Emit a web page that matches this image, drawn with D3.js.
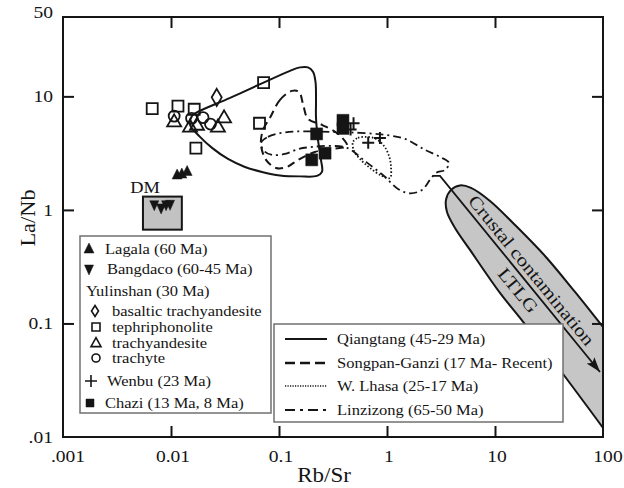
<!DOCTYPE html>
<html><head><meta charset="utf-8">
<script src="https://cdn.jsdelivr.net/npm/d3@7"></script>
<style>body{margin:0;background:#fff}svg{display:block}
text{font-family:"Liberation Serif","Times New Roman","DejaVu Serif",serif}</style>
</head><body>
<svg id="c" width="624" height="488"></svg>
<script>
// ---------------- DATA ----------------
const xTicks = [0.001, 0.01, 0.1, 1, 10, 100];
const xTickLabels = [".001", "0.01", "0.1", "1", "10", "100"];
const yTicks = [0.01, 0.1, 1, 10, 50];
const yTickLabels = [".01", "0.1", "1", "10", "50"];

// points [Rb/Sr, La/Nb]
const lagala = [[0.0114, 2.03], [0.0126, 2.07], [0.0141, 2.18]];
const bangdaco = [[0.0070, 1.11], [0.0081, 1.04], [0.0090, 1.11], [0.0098, 1.12]];
const basalticTrachyandesite = [[0.0265, 9.8]];
const tephriphonolite = [[0.0067, 7.8], [0.0116, 8.2], [0.0164, 7.7], [0.072, 13.2], [0.066, 5.8], [0.017, 3.5]];
const trachyandesite = [[0.0107, 6.0], [0.015, 5.4], [0.0174, 5.6], [0.0272, 5.4], [0.031, 6.5]];
const trachyte = [[0.0107, 6.7], [0.0155, 6.4], [0.0198, 6.5], [0.0232, 5.7]];
const wenbu = [[0.49, 5.8], [0.46, 5.1], [0.67, 3.9], [0.86, 4.3]];
const chazi = [[0.223, 4.67], [0.391, 6.15], [0.391, 5.22], [0.267, 3.16], [0.201, 2.76]];

// DM field
const dmBoxX = [0.0055, 0.0126];
const dmBoxY = [0.67, 1.31];

// fields (closed contours)
const qiangtang = [[0.01704, 7.16], [0.0352, 9.70], [0.0711, 13.15], [0.1264, 16.78], [0.1565, 18.0], [0.1856, 18.0],
  [0.2064, 16.44], [0.2178, 13.42], [0.2201, 9.32], [0.2201, 6.47], [0.2297, 4.14], [0.2448, 2.76], [0.2501, 2.16],
  [0.2248, 1.994], [0.1565, 1.974], [0.1022, 2.014], [0.0696, 2.16], [0.0484, 2.39], [0.0337, 2.81], [0.0240, 3.52],
  [0.01856, 4.40], [0.0150, 5.61], [0.01565, 6.73]];
const songpanGanzi = [[0.0825, 6.47], [0.1022, 9.32], [0.1319, 11.18], [0.1532, 10.95], [0.1668, 8.59], [0.1856, 6.34],
  [0.2501, 5.61], [0.3518, 4.67], [0.4263, 3.66], [0.3095, 3.45], [0.2154, 3.24], [0.1500, 2.76], [0.1186, 2.39],
  [0.0938, 2.34], [0.0758, 2.76], [0.0681, 3.74], [0.0711, 5.07]];
const wLhasa = [[0.4842, 3.97], [0.5388, 4.31], [0.6528, 4.40], [0.791, 4.22], [0.938, 3.66], [1.044, 2.99],
  [1.089, 2.39], [1.066, 1.91], [0.899, 1.99], [0.696, 2.34], [0.5623, 2.81], [0.4946, 3.31]];
const linzizong = [[0.0681, 3.89], [0.0791, 4.40], [0.1136, 4.82], [0.1740, 4.92], [0.2966, 4.87], [0.5623, 4.77],
  [0.958, 4.58], [1.468, 4.22], [2.248, 3.38], [3.095, 2.93], [3.751, 2.59], [3.443, 2.25], [2.842, 2.12],
  [2.501, 1.84], [2.109, 1.50], [1.633, 1.40], [1.264, 1.53], [0.938, 1.99], [0.639, 2.65], [0.4263, 3.52],
  [0.2966, 3.66], [0.2064, 3.59], [0.1532, 3.45], [0.1136, 3.11], [0.0861, 3.05], [0.0727, 3.31]];

// crustal contamination band (outline) and trend arrow
const crustalBand = [[121.1, 0.00941], [39.99, 0.0389], [17.04, 0.1118], [11.12, 0.1857], [5.87, 0.4442],
  [4.263, 0.694], [3.594, 0.960], [3.518, 1.225], [3.914, 1.50], [4.742, 1.644], [5.995, 1.563], [8.99, 1.200],
  [15.32, 0.737], [29.04, 0.393], [55.06, 0.1895], [100, 0.0931], [129.2, 0.0687]];
const crustalArrow = [[2.67, 1.994], [3.095, 1.994], [93.8, 0.0374]];

const legend1Labels = ["Lagala (60 Ma)", "Bangdaco (60-45 Ma)", "Yulinshan (30 Ma)", "basaltic trachyandesite",
  "tephriphonolite", "trachyandesite", "trachyte", "Wenbu (23 Ma)", "Chazi (13 Ma, 8 Ma)"];
const legend2Labels = ["Qiangtang (45-29 Ma)", "Songpan-Ganzi (17 Ma- Recent)", "W. Lhasa (25-17 Ma)", "Linzizong (65-50 Ma)"];
const xTitle = "Rb/Sr", yTitle = "La/Nb";

// ---------------- DRAW ----------------
const INK = "#151515";
const svg = d3.select("#c");
const X = d3.scaleLog().domain([0.001, 100]).range([63, 603]);
const Y = d3.scaleLog().domain([0.01, 50]).range([437, 17]);

function stext(g, x, y, str, size, sx, anchor, rot) {
  return g.append("text")
    .attr("transform", `translate(${x},${y}) rotate(${rot || 0}) scale(${sx},1)`)
    .attr("text-anchor", anchor || "start")
    .attr("font-size", size).attr("fill", INK)
    .text(str);
}
const shapes = {
  square: s => `M${-s/2},${-s/2}h${s}v${s}h${-s}Z`,
  triUp: (w, h) => `M0,${-h*0.6}L${w/2},${h*0.4}L${-w/2},${h*0.4}Z`,
  triDown: (w, h) => `M0,${h*0.6}L${w/2},${-h*0.4}L${-w/2},${-h*0.4}Z`,
  diamond: (w, h) => `M0,${-h/2}L${w/2},0L0,${h/2}L${-w/2},0Z`,
  plus: a => `M${-a},0H${a}M0,${-a}V${a}`
};

const defs = svg.append("defs");
defs.append("clipPath").attr("id", "plotclip").append("rect")
  .attr("x", X(0.001)).attr("y", Y(50)).attr("width", X(100) - X(0.001)).attr("height", Y(0.01) - Y(50));
defs.append("marker").attr("id", "ah").attr("markerUnits", "userSpaceOnUse")
  .attr("markerWidth", 16).attr("markerHeight", 12).attr("refX", 15).attr("refY", 5)
  .attr("orient", "auto")
  .append("path").attr("d", "M0,0L15,5L0,10L3,5Z").attr("fill", INK);

const plot = svg.append("g").attr("clip-path", "url(#plotclip)");
const line = d3.line().x(d => X(d[0])).y(d => Y(d[1]));
const closed = d3.line().x(d => X(d[0])).y(d => Y(d[1])).curve(d3.curveCatmullRomClosed.alpha(0.5));

// band
plot.append("path").attr("d", d3.line().x(d => X(d[0])).y(d => Y(d[1])).curve(d3.curveCatmullRom.alpha(0.5))(crustalBand))
  .attr("fill", "#c6c6c6").attr("stroke", INK).attr("stroke-width", 2);
plot.append("path").attr("d", line(crustalArrow)).attr("fill", "none").attr("stroke", INK)
  .attr("stroke-width", 1.8).attr("marker-end", "url(#ah)");

// band texts placed along the arrow
{
  const p0 = [X(crustalArrow[1][0]), Y(crustalArrow[1][1])], p1 = [X(crustalArrow[2][0]), Y(crustalArrow[2][1])];
  const dx = p1[0] - p0[0], dy = p1[1] - p0[1], len = Math.hypot(dx, dy);
  const ux = dx / len, uy = dy / len, nx = uy, ny = -ux;
  const ang = Math.atan2(dy, dx) * 180 / Math.PI;
  const at = (s, o) => [p0[0] + ux * s + nx * o, p0[1] + uy * s + ny * o];
  const a = at(131, 5);
  stext(plot, a[0], a[1], "Crustal contamination", 18, 1.18, "middle", ang);
  const b = at(138, -18);
  stext(plot, b[0], b[1], "LTLG", 18, 1.18, "middle", ang);
}

// fields
plot.append("path").attr("d", closed(qiangtang)).attr("fill", "none").attr("stroke", INK).attr("stroke-width", 2);
plot.append("path").attr("d", closed(songpanGanzi)).attr("fill", "none").attr("stroke", INK).attr("stroke-width", 2)
  .attr("stroke-dasharray", "8,5");
plot.append("path").attr("d", closed(linzizong)).attr("fill", "none").attr("stroke", INK).attr("stroke-width", 1.8)
  .attr("stroke-dasharray", "8,4,2,4");
plot.append("path").attr("d", closed(wLhasa)).attr("fill", "none").attr("stroke", INK).attr("stroke-width", 1.8)
  .attr("stroke-dasharray", "1.5,2");

// DM box
plot.append("rect").attr("x", X(dmBoxX[0])).attr("y", Y(dmBoxY[1]))
  .attr("width", X(dmBoxX[1]) - X(dmBoxX[0])).attr("height", Y(dmBoxY[0]) - Y(dmBoxY[1]))
  .attr("fill", "#c2c2c2").attr("stroke", INK).attr("stroke-width", 2);
stext(svg, X(dmBoxX[0]) + 2, Y(dmBoxY[1]) - 4, "DM", 16, 1.15, "middle");

// symbols
function pts(data, d, fill, sw) {
  plot.append("g").selectAll("path").data(data).join("path")
    .attr("transform", p => `translate(${X(p[0])},${Y(p[1])})`)
    .attr("d", d).attr("fill", fill ? INK : "none").attr("stroke", INK).attr("stroke-width", sw);
}
pts(tephriphonolite, shapes.square(11), false, 1.8);
pts(trachyandesite, shapes.triUp(14, 12), false, 1.8);
plot.append("g").selectAll("circle").data(trachyte).join("circle")
  .attr("cx", p => X(p[0])).attr("cy", p => Y(p[1])).attr("r", 5.5)
  .attr("fill", "none").attr("stroke", INK).attr("stroke-width", 1.8);
pts(basalticTrachyandesite, shapes.diamond(10, 17), false, 1.8);
pts(lagala, shapes.triUp(10, 10), true, 0.5);
pts(bangdaco, shapes.triDown(9, 10), true, 0.5);
pts(chazi, shapes.square(12), true, 0.5);
pts(wenbu, shapes.plus(6), false, 2);

// frame & ticks
svg.append("rect").attr("x", X(0.001)).attr("y", Y(50)).attr("width", X(100) - X(0.001))
  .attr("height", Y(0.01) - Y(50)).attr("fill", "none").attr("stroke", INK).attr("stroke-width", 2);
function styleAxis(g) { g.select(".domain").remove(); g.selectAll("line").attr("stroke", INK).attr("stroke-width", 2); }
const inner = xTicks.slice(1, -1);
svg.append("g").attr("transform", `translate(0,${Y(0.01)})`)
  .call(d3.axisBottom(X).tickValues(inner).tickSize(-11).tickFormat("")).call(styleAxis);
svg.append("g").attr("transform", `translate(0,${Y(50)})`)
  .call(d3.axisTop(X).tickValues(inner).tickSize(-11).tickFormat("")).call(styleAxis);
const yInner = yTicks.slice(1, -1);
svg.append("g").attr("transform", `translate(${X(0.001)},0)`)
  .call(d3.axisLeft(Y).tickValues(yInner).tickSize(-11).tickFormat("")).call(styleAxis);
svg.append("g").attr("transform", `translate(${X(100)},0)`)
  .call(d3.axisRight(Y).tickValues(yInner).tickSize(-11).tickFormat("")).call(styleAxis);

// tick labels
xTicks.forEach((v, i) => {
  const off = (i === 0 || i === xTicks.length - 1) ? 5 : 2;
  stext(svg, X(v) + off, 462, xTickLabels[i], 17, 1.15, "middle");
});
yTicks.forEach((v, i) => {
  let by = Y(v) + 6;
  if (v === 50) by = Y(v) + 1;
  stext(svg, 53, by, yTickLabels[i], 17, 1.15, "end");
});
stext(svg, 324, 482, xTitle, 20, 1.15, "middle");
stext(svg, 35, 218, yTitle, 20, 1.12, "middle", -90);

// legend 1
const L1 = svg.append("g");
L1.append("rect").attr("x", 80).attr("y", 236).attr("width", 191).attr("height", 177)
  .attr("fill", "#fff").attr("stroke", "#707070").attr("stroke-width", 1.5);
const L1rows = [
  { sym: shapes.triUp(10, 10), fill: true, sx: 89, tx: 105, y: 249 },
  { sym: shapes.triDown(9, 10), fill: true, sx: 89, tx: 107, y: 269 },
  { sym: null, tx: 86, y: 291 },
  { sym: shapes.diamond(7, 11), fill: false, sx: 95, tx: 112, y: 311 },
  { sym: shapes.square(8), fill: false, sx: 96, tx: 112, y: 327 },
  { sym: shapes.triUp(10, 9), fill: false, sx: 96, tx: 112, y: 343 },
  { sym: "circle", sx: 96, tx: 112, y: 358 },
  { sym: shapes.plus(6), fill: false, sx: 91, tx: 107, y: 381 },
  { sym: shapes.square(8), fill: true, sx: 90, tx: 105, y: 403 }
];
L1rows.forEach((r, i) => {
  if (r.sym === "circle") {
    L1.append("circle").attr("cx", r.sx).attr("cy", r.y).attr("r", 4).attr("fill", "none")
      .attr("stroke", INK).attr("stroke-width", 1.6);
  } else if (r.sym) {
    L1.append("path").attr("transform", `translate(${r.sx},${r.y})`).attr("d", r.sym)
      .attr("fill", r.fill ? INK : "none").attr("stroke", INK).attr("stroke-width", r.fill ? 0.5 : 1.6);
  }
  stext(L1, r.tx, r.y + 5, legend1Labels[i], 15, 1.1, "start");
});

// legend 2
const L2 = svg.append("g");
L2.append("rect").attr("x", 274).attr("y", 324).attr("width", 289).attr("height", 98)
  .attr("fill", "#fff").attr("stroke", "#707070").attr("stroke-width", 1.5);
const L2rows = [
  { dash: null, w: 2, y: 339 },
  { dash: "10,5", w: 2.5, y: 363 },
  { dash: "1.2,1.3", w: 1.6, y: 386 },
  { dash: "10,5,3,5", w: 2, y: 410 }
];
L2rows.forEach((r, i) => {
  L2.append("line").attr("x1", 285).attr("x2", 327).attr("y1", r.y).attr("y2", r.y)
    .attr("stroke", INK).attr("stroke-width", r.w).attr("stroke-dasharray", r.dash);
  stext(L2, 337, r.y + 5, legend2Labels[i], 15, 1.1, "start");
});
</script>
</body></html>
